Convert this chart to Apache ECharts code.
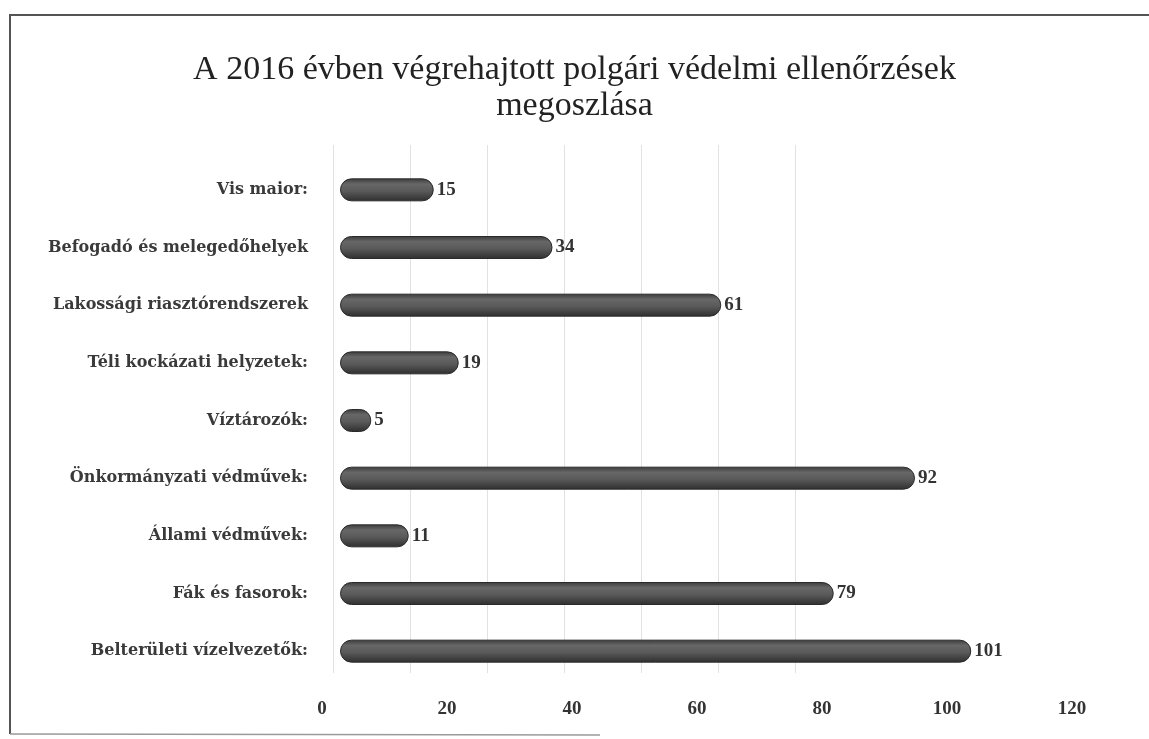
<!DOCTYPE html>
<html>
<head>
<meta charset="utf-8">
<script src="https://cdn.jsdelivr.net/npm/echarts@6/dist/echarts.min.js"></script>
<style>
  html, body { margin: 0; padding: 0; background: #fff; }
  #chart { width: 1149px; height: 739px; }
</style>
</head>
<body>
<div id="chart"></div>
<script>
// kategóriák alulról felfelé (ECharts y kategória tengely)
const categories = [
  'Belterületi vízelvezetők:',
  'Fák és fasorok:',
  'Állami védművek:',
  'Önkormányzati védművek:',
  'Víztározók:',
  'Téli kockázati helyzetek:',
  'Lakossági riasztórendszerek',
  'Befogadó és melegedőhelyek',
  'Vis maior:'
]
const values = [101, 79, 11, 92, 5, 19, 61, 34, 15]
const xTicks = [0, 20, 40, 60, 80, 100, 120]

const serif = '"Liberation Serif", "DejaVu Serif", serif'
const wideSerif = '"DejaVu Serif", "Liberation Serif", serif'

const chart = echarts.init(document.getElementById('chart'))

// hengeres oszlop hatás
const barColor = new echarts.graphic.LinearGradient(0, 0, 0, 1, [
  { offset: 0, color: '#3a3a3a' },
  { offset: 0.25, color: '#676767' },
  { offset: 0.55, color: '#5a5a5a' },
  { offset: 1, color: '#2e2e2e' }
])

chart.setOption({
  backgroundColor: '#ffffff',
  animation: false,
  title: {
    text: 'A 2016 évben végrehajtott polgári védelmi ellenőrzések\nmegoszlása',
    left: 'center',
    top: 47,
    textStyle: {
      fontFamily: serif,
      fontSize: 34,
      fontWeight: 'normal',
      color: '#222222',
      lineHeight: 36
    }
  },
  graphic: [{
    type: 'polyline',
    shape: { points: [[1149, 15], [10, 15], [10, 734]] },
    style: { fill: 'none', stroke: '#555', lineWidth: 2 },
    silent: true
  }, {
    type: 'line',
    shape: { x1: 10, y1: 734, x2: 600, y2: 735 },
    style: { stroke: '#9a9a9a', lineWidth: 1.5 },
    silent: true
  }],
  grid: [
    // oszlopok (3D eltolás miatt kicsit jobbra)
    { left: 340, right: 59, top: 161, bottom: 59 },
    // tengelyfeliratok
    { left: 322, right: 77, top: 161, bottom: 59 },
    // hátsó fal rácsvonalai
    { left: 333, width: 462, top: 145, bottom: 66 }
  ],
  xAxis: [{
    gridIndex: 0,
    type: 'value',
    min: 0,
    max: 120,
    interval: 20,
    show: false
  }, {
    gridIndex: 1,
    type: 'value',
    min: 0,
    max: 120,
    interval: 20,
    axisLine: { show: false },
    axisTick: { show: false },
    splitLine: { show: false },
    axisLabel: {
      margin: 20,
      fontFamily: serif,
      fontSize: 19,
      fontWeight: 'bold',
      color: '#333333',
      formatter: (v) => (xTicks.includes(v) ? String(v) : '')
    }
  }, {
    gridIndex: 2,
    type: 'value',
    min: 0,
    max: 120,
    interval: 20,
    axisLine: { show: false },
    axisTick: { show: false },
    axisLabel: { show: false },
    splitLine: { lineStyle: { color: '#e2e2e2', width: 1 } }
  }],
  yAxis: [{
    gridIndex: 0,
    type: 'category',
    data: categories,
    axisLine: { show: false },
    axisTick: { show: false },
    axisLabel: {
      margin: 32,
      fontFamily: wideSerif,
      fontSize: 16,
      fontWeight: 'bold',
      color: '#3a3a3a'
    }
  }, {
    gridIndex: 1,
    type: 'category',
    data: categories,
    show: false
  }, {
    gridIndex: 2,
    type: 'value',
    show: false
  }],
  series: [{
    type: 'bar',
    xAxisIndex: 0,
    yAxisIndex: 0,
    data: values,
    barWidth: 23,
    itemStyle: {
      color: barColor,
      borderColor: '#2a2a2a',
      borderWidth: 1,
      borderRadius: 11
    },
    label: {
      show: true,
      position: 'right',
      distance: 3,
      fontFamily: serif,
      fontSize: 19,
      fontWeight: 'bold',
      color: '#333333'
    }
  }]
})
</script>
</body>
</html>
